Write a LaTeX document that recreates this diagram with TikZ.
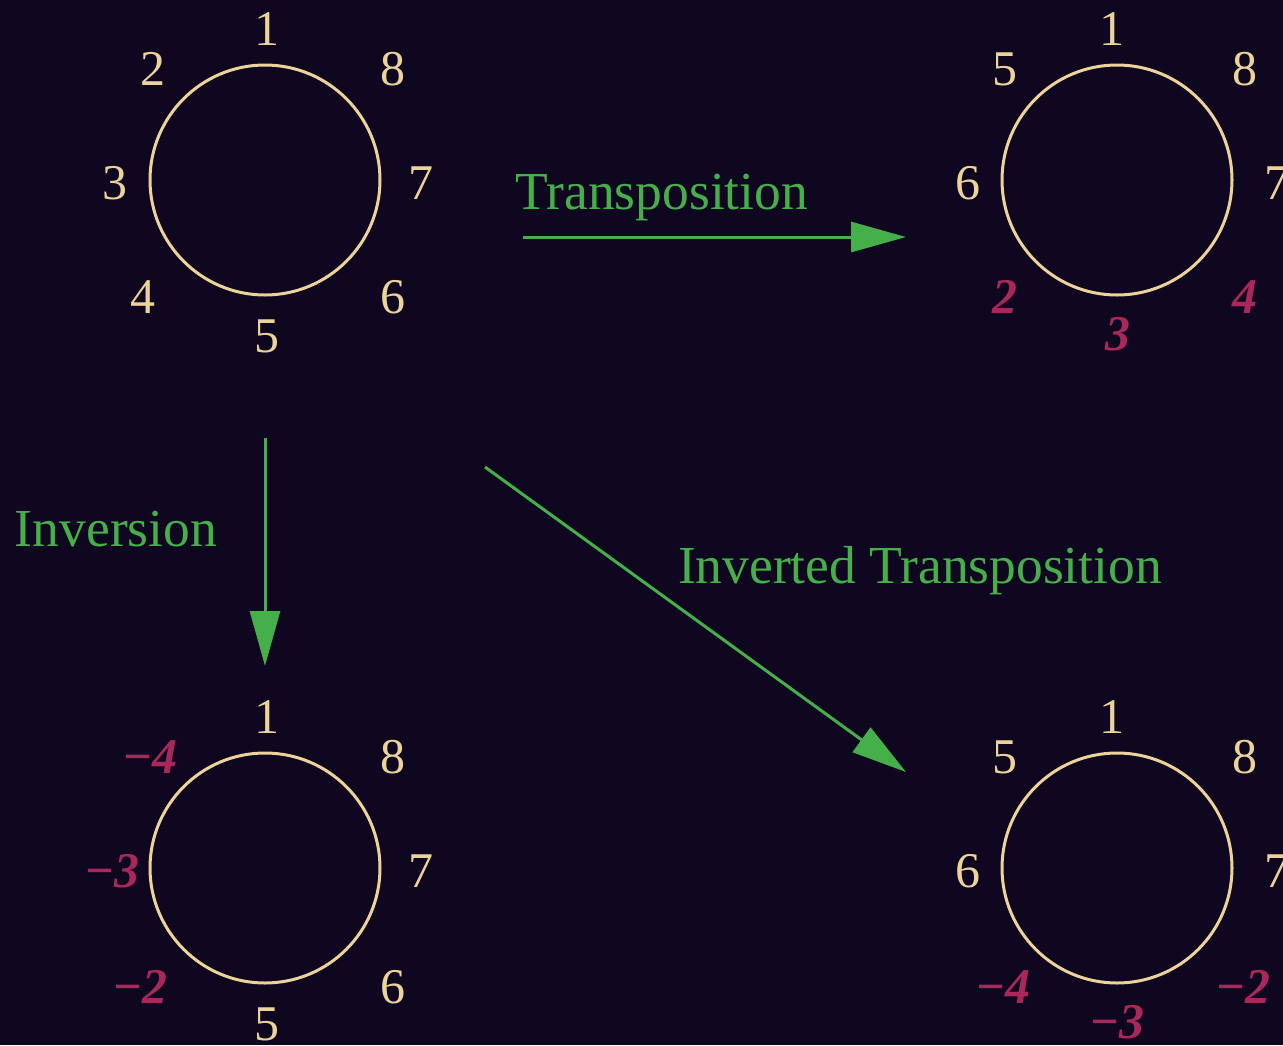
\documentclass[tikz,border=0pt]{standalone}
\usepackage{fontspec}
\setmainfont{Liberation Serif}
\usetikzlibrary{arrows.meta}
\definecolor{bg}{HTML}{0F0620}
\definecolor{ring}{HTML}{ECD39A}
\definecolor{neg}{HTML}{A8285A}
\definecolor{grn}{HTML}{45B04A}
\tikzset{
  ring/.style={draw=ring, line width=3pt},
  lab/.style={text=ring, font=\fontsize{50}{60}\selectfont, inner sep=0pt},
  rlab/.style={text=neg, font=\fontsize{50}{60}\selectfont\bfseries\itshape, inner sep=0pt},
  glab/.style={text=grn, font=\fontsize{53.5}{62}\selectfont, inner sep=0pt},
  arr/.style={draw=grn, line width=3pt, -{Triangle[length=55pt,width=30pt]}}
}
\begin{document}
\begin{tikzpicture}[x=1pt,y=-1pt]
\fill[bg] (0,0) rectangle (1283,1045);
\useasboundingbox (0,0) rectangle (1283,1045);
% circles
\node[ring, circle, minimum size=230pt] (c1) at (265,180) {};
\node[ring, circle, minimum size=230pt] (c2) at (1117,180) {};
\node[ring, circle, minimum size=230pt] (c3) at (265,868) {};
\node[ring, circle, minimum size=230pt] (c4) at (1117,868) {};
% circle 1 labels
\node[lab] (a1) at (267,29) {1};
\node[lab] (a2) at (153,69) {2};
\node[lab] (a8) at (393,69) {8};
\node[lab] (a3) at (115,183) {3};
\node[lab] (a7) at (421,183) {7};
\node[lab] (a4) at (143,297) {4};
\node[lab] (a6) at (393,297) {6};
\node[lab] (a5) at (267,336) {5};
% circle 2 labels
\node[lab] (b1) at (1112,29) {1};
\node[lab] (b5) at (1005,69) {5};
\node[lab] (b8) at (1245,69) {8};
\node[lab] (b6) at (968,183) {6};
\node[lab] (b7) at (1277,183) {7};
\node[rlab] (b2) at (1005,297) {2};
\node[rlab] (b4) at (1245,297) {4};
\node[rlab] (b3) at (1118,334) {3};
% circle 3 labels
\node[lab] (d1) at (267,717) {1};
\node[rlab] (d4) at (150,757) {−4};
\node[lab] (d8) at (393,757) {8};
\node[rlab] (d3) at (112,871) {−3};
\node[lab] (d7) at (421,871) {7};
\node[rlab] (d2) at (140,987) {−2};
\node[lab] (d6) at (393,987) {6};
\node[lab] (d5) at (267,1024) {5};
% circle 4 labels
\node[lab] (e1) at (1112,717) {1};
\node[lab] (e5) at (1005,757) {5};
\node[lab] (e8) at (1245,757) {8};
\node[lab] (e6) at (968,871) {6};
\node[lab] (e7) at (1277,871) {7};
\node[rlab] (e4) at (1003,987) {−4};
\node[rlab] (e2) at (1243,987) {−2};
\node[rlab] (e3) at (1117,1022) {−3};
% arrows
\coordinate (t0) at (523,237);
\coordinate (t1) at (906,237);
\coordinate (i0) at (265,438);
\coordinate (i1) at (265,666);
\coordinate (v0) at (485,467);
\coordinate (v1) at (906,772);
\draw[arr] (t0) -- (t1);
\draw[arr] (i0) -- (i1);
\draw[arr] (v0) -- (v1);
\node[glab] (tl) at (662,197) {Transposition};
\node[glab] (il) at (116,529) {Inversion};
\node[glab] (vl) at (920,571) {Inverted Transposition};
\end{tikzpicture}
\end{document}
